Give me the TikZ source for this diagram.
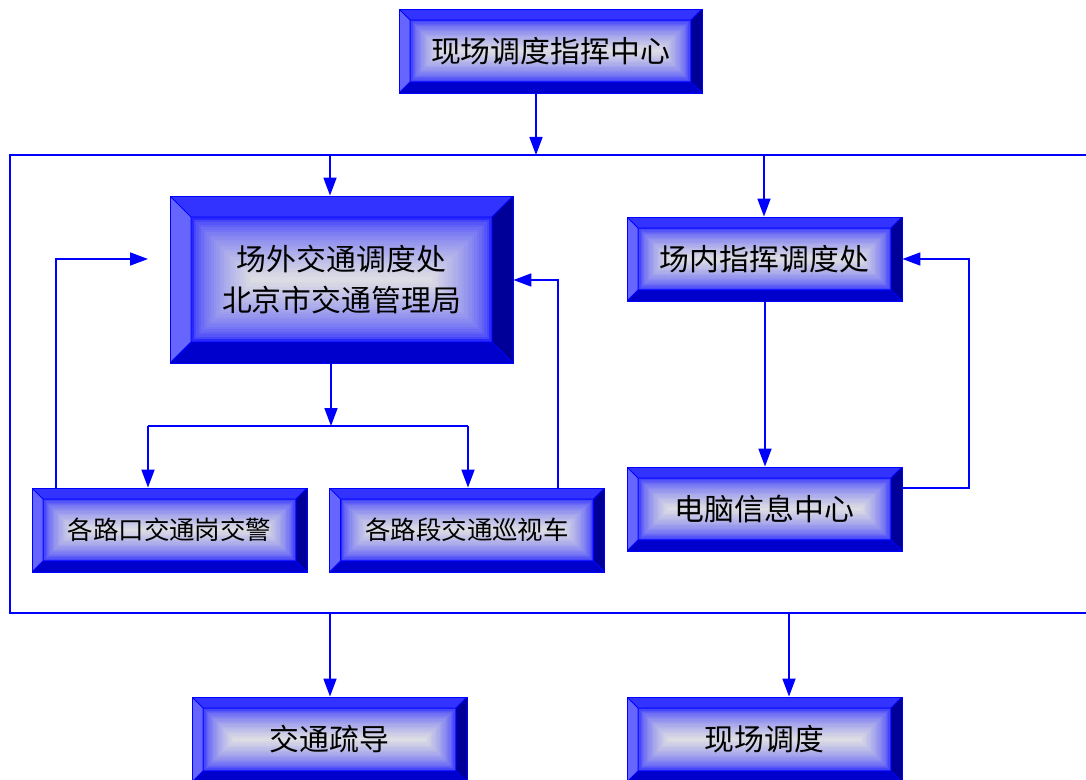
\documentclass[tikz,border=0pt]{standalone}
\usepackage{fontspec}
\newfontfamily\cjk{Noto Sans CJK SC}
\usetikzlibrary{arrows.meta,calc}
\definecolor{lineblue}{RGB}{0,0,255}
\definecolor{bevtop}{RGB}{51,51,255}
\definecolor{bevleft}{RGB}{102,102,255}
\definecolor{bevright}{RGB}{0,0,153}
\definecolor{bevbot}{RGB}{0,0,204}
\definecolor{glowmid}{RGB}{220,220,228}
\definecolor{glowedge}{RGB}{40,40,255}

\begin{document}
\begin{tikzpicture}[x=0.02cm,y=-0.02cm,
  bevel width/.store in=\bevw, bevel width=2.2mm,
  main node/.style={draw=lineblue,line width=0.5pt,inner sep=0pt,align=center,
    minimum width=5.5cm,minimum height=1.68cm,text=black,
    font=\cjk\fontsize{17pt}{23pt}\selectfont,
    path picture={
      \coordinate (q1) at (path picture bounding box.south west);
      \coordinate (q2) at (path picture bounding box.south east);
      \coordinate (q3) at (path picture bounding box.north east);
      \coordinate (q4) at (path picture bounding box.north west);
      \coordinate (p1) at ([shift={(\bevw,\bevw)}]q1);
      \coordinate (p2) at ([shift={(-\bevw,\bevw)}]q2);
      \coordinate (p3) at ([shift={(-\bevw,-\bevw)}]q3);
      \coordinate (p4) at ([shift={(\bevw,-\bevw)}]q4);
      \fill[bevtop] (q4) -- (q3) -- (p3) -- (p4) -- cycle;
      \fill[bevbot] (q1) -- (q2) -- (p2) -- (p1) -- cycle;
      \fill[bevleft] (q1) -- (q4) -- (p4) -- (p1) -- cycle;
      \fill[bevright] (q2) -- (q3) -- (p3) -- (p2) -- cycle;
      \foreach \i in {0,...,24} {
        \pgfmathsetmacro\mixp{100*(\i/24)^0.55}
        \fill[glowmid!\mixp!glowedge] let \p1=(p1), \p3=(p3), \n1={(\y3-\y1)*\i/50} in
          (\x1+\n1,\y1+\n1) rectangle (\x3-\n1,\y3-\n1);
      }
      \draw[lineblue,line width=0.5pt] (p1) rectangle (p3)
        (q1) -- (p1) (q2) -- (p2) (q3) -- (p3) (q4) -- (p4);
    }},
  small text/.style={font=\cjk\fontsize{14.5pt}{18pt}\selectfont},
  link/.style={lineblue,line width=1pt,-{Triangle[length=3.6mm,width=2.6mm]}},
  bus/.style={lineblue,line width=1pt}]

  \useasboundingbox (0,0) rectangle (1086,780);

  \node[main node,minimum width=6.06cm] (0) at (550.5,51) {现场调度指挥中心};
  \node[main node,minimum width=6.86cm,minimum height=3.34cm,bevel width=4.2mm] (1) at (341.5,279.5) {场外交通调度处\\北京市交通管理局};
  \node[main node] (2) at (764.5,259) {场内指挥调度处};
  \node[main node,small text] (3) at (169.5,530) {各路口交通岗交警};
  \node[main node,small text] (4) at (467,530) {各路段交通巡视车};
  \node[main node] (5) at (764.5,509) {电脑信息中心};
  \node[main node,minimum height=1.7cm] (6) at (329.5,739.5) {交通疏导};
  \node[main node,minimum height=1.7cm] (7) at (764.5,739.5) {现场调度};

  % frame and junctions
  \coordinate (tl) at (10,155);
  \coordinate (tr) at (1086,155);
  \coordinate (bl) at (10,613);
  \coordinate (br) at (1086,613);
  \coordinate (a) at (536,155);
  \coordinate (b) at (330,155);
  \coordinate (c) at (764,155);
  \coordinate (d) at (331,426);
  \coordinate (e) at (148,426);
  \coordinate (f) at (468,426);
  \coordinate (g) at (56,259);
  \coordinate (h) at (148,259);
  \coordinate (i) at (558,280);
  \coordinate (j) at (969,488);
  \coordinate (k) at (969,259);
  \coordinate (l) at (330,613);
  \coordinate (m) at (789,613);
  \coordinate (n) at (765,380);

  \draw[bus] (tr) -- (tl) -- (bl) -- (br);
  \draw[bus] (e) -- (f);

  \path[every edge/.append style={link}]
    (0.south -| a) edge (a)
    (b) edge (1.north -| b)
    (c) edge (2.north -| c)
    (1.south -| d) edge (d)
    (e) edge (3.north -| e)
    (f) edge (4.north -| f)
    (2.south -| n) edge (5.north -| n)
    (l) edge (6.north -| l)
    (m) edge (7.north -| m);

  % feedback loops
  \draw[link] (3.north -| g) -- (g) -- (h);
  \draw[link] (4.north -| i) -- (i) -- (1.east |- i);
  \draw[link] (5.east |- j) -- (j) -- (k) -- (2.east |- k);
\end{tikzpicture}
\end{document}
